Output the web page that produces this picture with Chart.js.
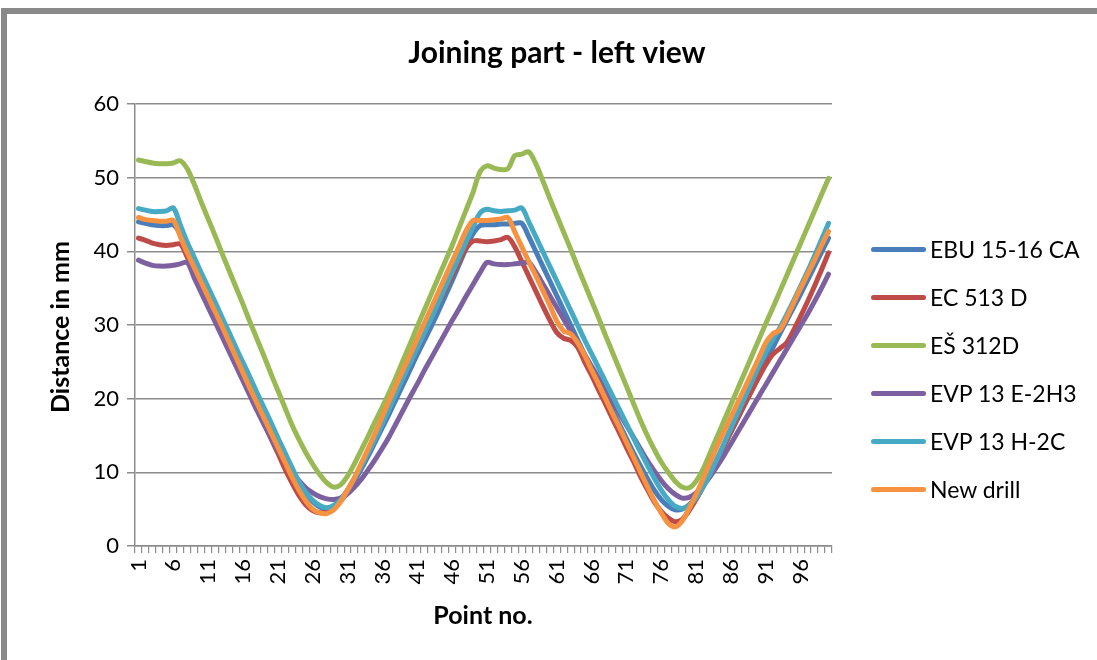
<!DOCTYPE html>
<html lang="en">
<head>
<meta charset="UTF-8">
<title>Joining part - left view</title>
<script src="https://cdn.jsdelivr.net/npm/chart.js"></script>
<style>
    body { margin: 0; background: #fff; overflow: hidden; }
    .wrap { position: relative; width: 1097px; height: 660px; overflow: hidden; }
    .frame { position: absolute; left: 1px; top: 8px; width: 1200px; height: 800px; border: 6px solid #898989; pointer-events: none; }
    #legend { position: absolute; left: 0; top: 0; font-family: Lato, "Open Sans", sans-serif; font-size: 23px; color: #000; }
    .item { position: absolute; left: 871px; height: 26px; white-space: nowrap; display: flex; align-items: center; }
    .swatch { width: 55px; height: 5px; border-radius: 3px; margin-right: 4px; }
</style>
</head>
<body>
<div class="wrap">
    <canvas id="grafico" width="1097" height="660"></canvas>
    <div class="frame"></div>
    <div id="legend"></div>
</div>
<script>
// point numbers on the category axis
const pointNo = Array.from({ length: 100 }, (_, i) => String(i + 1));

const ebu = [
    44.0, 43.8, 43.6, 43.5, 43.5, 43.6, 42.4, 40.3, 38.3, 36.3,
    34.3, 32.3, 30.3, 28.3, 26.3, 24.3, 22.3, 20.3, 18.3, 16.3,
    14.3, 12.3, 10.4, 8.7, 7.2, 6.0, 5.3, 5.0, 5.3, 6.1,
    7.3, 8.8, 10.5, 12.3, 14.2, 16.1, 18.0, 20.0, 22.0, 24.0,
    26.0, 27.9, 29.8, 31.8, 33.9, 36.0, 38.2, 40.4, 42.4, 43.5,
    43.6, 43.6, 43.7, 43.7, 43.8, 43.8, 42.0, 40.0, 38.0, 36.0,
    34.0, 32.0, 30.0, 28.0, 26.0, 24.1, 22.2, 20.3, 18.4, 16.5,
    14.6, 12.7, 10.9, 9.2, 7.6, 6.3, 5.4, 4.9, 5.0, 5.6,
    6.7, 8.2, 9.9, 11.7, 13.6, 15.5, 17.4, 19.3, 21.2, 23.1,
    25.0, 26.9, 28.8, 30.6, 32.4, 34.2, 36.1, 38.0, 39.9, 41.8
];
const ec = [
    41.8, 41.5, 41.1, 40.9, 40.8, 40.9, 41.0, 39.2, 37.2, 35.1,
    33.1, 31.0, 29.0, 26.9, 24.9, 22.8, 20.8, 18.7, 16.7, 14.6,
    12.6, 10.5, 8.6, 6.9, 5.6, 4.8, 4.5, 4.6, 5.3, 6.3,
    7.6, 9.2, 11.0, 12.9, 14.9, 16.9, 18.9, 20.9, 22.9, 24.9,
    26.9, 28.9, 30.9, 32.9, 34.8, 36.7, 38.6, 40.4, 41.4, 41.4,
    41.3, 41.4, 41.6, 41.9, 40.6, 38.6, 36.6, 34.6, 32.6, 30.7,
    29.0, 28.2, 27.9, 27.0, 25.0, 23.2, 21.2, 19.3, 17.3, 15.4,
    13.4, 11.5, 9.5, 7.7, 6.0, 4.7, 3.8, 3.3, 3.6, 4.8,
    6.3, 8.0, 9.8, 11.7, 13.6, 15.5, 17.4, 19.3, 21.1, 22.9,
    24.6, 26.0, 26.8, 27.6, 29.3, 31.2, 33.2, 35.3, 37.5, 39.8
];
const es = [
    52.4, 52.2, 52.0, 51.9, 51.9, 52.0, 52.3, 51.2, 49.1, 46.7,
    44.4, 42.1, 39.7, 37.4, 35.1, 32.8, 30.4, 28.1, 25.8, 23.4,
    21.1, 18.8, 16.5, 14.5, 12.7, 11.1, 9.7, 8.6, 8.0, 8.3,
    9.5, 11.2, 13.1, 15.0, 17.0, 18.9, 20.9, 23.0, 25.3, 27.5,
    29.8, 32.0, 34.2, 36.4, 38.6, 40.8, 43.2, 45.6, 48.0, 50.8,
    51.6, 51.3, 51.1, 51.2, 53.0, 53.2, 53.5, 51.9, 49.6, 47.2,
    44.9, 42.6, 40.3, 37.9, 35.6, 33.3, 31.0, 28.6, 26.3, 24.0,
    21.7, 19.4, 17.1, 15.0, 13.1, 11.4, 10.0, 8.8, 8.0, 7.9,
    8.8, 10.4, 12.6, 14.8, 17.0, 19.2, 21.4, 23.6, 25.8, 28.0,
    30.2, 32.3, 34.5, 36.7, 38.9, 41.1, 43.3, 45.5, 47.7, 49.9
];
const evpE = [
    38.8, 38.4, 38.1, 38.0, 38.0, 38.1, 38.3, 38.5, 36.4, 34.4,
    32.4, 30.4, 28.4, 26.4, 24.4, 22.4, 20.4, 18.4, 16.5, 14.7,
    13.0, 11.5, 10.1, 8.9, 7.9, 7.2, 6.7, 6.4, 6.3, 6.5,
    7.1, 8.0, 9.1, 10.4, 11.8, 13.3, 14.9, 16.7, 18.5, 20.3,
    22.0, 23.8, 25.5, 27.2, 28.9, 30.6, 32.2, 33.9, 35.5, 37.1,
    38.5, 38.3, 38.2, 38.2, 38.3, 38.4, 38.5, 37.2, 35.6, 34.0,
    32.4, 30.8, 29.2, 27.6, 26.0, 24.4, 22.8, 21.2, 19.6, 18.0,
    16.4, 14.8, 13.2, 11.6, 10.2, 8.9, 7.8, 7.0, 6.5, 6.6,
    7.2, 8.2, 9.4, 10.8, 12.3, 13.9, 15.5, 17.1, 18.7, 20.3,
    21.9, 23.5, 25.1, 26.7, 28.3, 29.9, 31.5, 33.2, 35.0, 36.9
];
const evpH = [
    45.8, 45.6, 45.4, 45.4, 45.5, 45.9, 43.6, 41.2, 39.2, 37.1,
    35.1, 33.1, 31.0, 29.0, 26.9, 24.9, 22.9, 20.8, 18.8, 16.8,
    14.7, 12.7, 10.7, 8.8, 7.3, 6.2, 5.5, 5.2, 5.5, 6.3,
    7.6, 9.2, 10.9, 12.7, 14.6, 16.6, 18.7, 20.8, 22.9, 24.9,
    26.9, 28.9, 30.9, 33.0, 35.1, 37.2, 39.2, 41.3, 43.3, 45.2,
    45.7, 45.5, 45.4, 45.5, 45.6, 45.9, 44.0, 42.0, 40.0, 38.0,
    36.0, 34.0, 32.0, 30.0, 28.0, 26.1, 24.2, 22.3, 20.4, 18.5,
    16.6, 14.7, 12.8, 11.0, 9.2, 7.6, 6.3, 5.4, 5.1, 5.5,
    6.5, 8.0, 9.8, 11.8, 13.9, 16.0, 18.1, 20.2, 22.3, 24.4,
    26.3, 28.0, 29.6, 31.4, 33.3, 35.3, 37.3, 39.4, 41.6, 43.8
];
const newDrill = [
    44.6, 44.3, 44.2, 44.1, 44.1, 44.2, 42.0, 39.8, 37.8, 35.8,
    33.8, 31.8, 29.8, 27.7, 25.6, 23.5, 21.4, 19.4, 17.4, 15.4,
    13.4, 11.4, 9.4, 7.6, 6.1, 5.0, 4.5, 4.4, 4.9, 6.0,
    7.6, 9.3, 11.3, 13.3, 15.4, 17.6, 19.8, 21.9, 24.0, 26.0,
    28.1, 30.2, 32.3, 34.4, 36.5, 38.6, 40.7, 42.8, 44.2, 44.2,
    44.2, 44.3, 44.4, 44.6, 42.6, 40.6, 38.6, 36.7, 34.7, 32.7,
    30.6, 29.2, 28.8, 27.6, 25.9, 23.9, 22.0, 20.0, 18.0, 16.1,
    14.1, 12.1, 10.1, 8.1, 6.2, 4.5, 3.1, 2.6, 3.4, 5.1,
    7.0, 9.1, 11.3, 13.5, 15.5, 17.5, 19.5, 21.5, 23.5, 25.5,
    27.6, 28.8, 29.3, 31.0, 33.0, 35.0, 36.9, 38.8, 40.8, 42.7
];

const seriesNames = ['EBU 15-16 CA', 'EC 513 D', 'EŠ 312D', 'EVP 13 E-2H3', 'EVP 13 H-2C', 'New drill'];
const seriesValues = [ebu, ec, es, evpE, evpH, newDrill];
const seriesColors = ['#4a7ebb', '#be4b48', '#98b954', '#7d60a0', '#46aac5', '#f69240'];

const fontFamily = 'Lato, "Open Sans", sans-serif';
const gridGray = '#8c8c8c';

// Excel draws the last series on top; Chart.js puts lowest "order" on top
const datasets = seriesValues.map((vals, i) => ({
    label: seriesNames[i],
    data: vals,
    borderColor: seriesColors[i],
    backgroundColor: seriesColors[i],
    borderWidth: 5,
    borderCapStyle: 'round',
    borderJoinStyle: 'round',
    pointRadius: 0,
    tension: 0.3,
    order: seriesValues.length - i
}));

const titlesPlugin = {
    id: 'titles',
    afterDraw(chart) {
        const ctx = chart.ctx;
        ctx.save();
        ctx.fillStyle = '#000';
        ctx.textAlign = 'center';
        ctx.textBaseline = 'middle';
        ctx.font = 'bold 30px ' + fontFamily;
        ctx.fillText('Joining part - left view', 557, 53);
        ctx.font = 'bold 25px ' + fontFamily;
        ctx.fillText('Point no.', 483, 616);
        ctx.translate(61, 327);
        ctx.rotate(-Math.PI / 2);
        ctx.fillText('Distance in mm', 0, 0);
        ctx.restore();
    }
};

new Chart(document.getElementById('grafico').getContext('2d'), {
    type: 'line',
    data: { labels: pointNo, datasets: datasets },
    options: {
        responsive: false,
        animation: false,
        layout: { padding: { left: 0, top: 104, right: 265, bottom: 0 } },
        plugins: {
            legend: { display: false },
            tooltip: { enabled: false }
        },
        scales: {
            x: {
                type: 'category',
                offset: true,
                afterFit: s => { s.height = 114; },
                grid: { drawOnChartArea: false, drawTicks: true, tickLength: 7, color: gridGray, lineWidth: 1.2, offset: true },
                border: { color: gridGray, width: 1.5 },
                ticks: {
                    autoSkip: false,
                    minRotation: 90,
                    maxRotation: 90,
                    padding: 6,
                    color: '#000',
                    font: { family: fontFamily, size: 22 },
                    callback: (v, i) => (i % 5 === 0 ? pointNo[i] : '')
                }
            },
            y: {
                min: 0,
                max: 60,
                afterFit: s => { s.width = 135; },
                grid: { color: gridGray, lineWidth: 1.5, tickLength: 8 },
                border: { color: gridGray, width: 1.5 },
                ticks: {
                    stepSize: 10,
                    padding: 8,
                    color: '#000',
                    font: { family: fontFamily, size: 22 }
                }
            }
        }
    },
    plugins: [titlesPlugin]
});

// legend on the right, same rows as the workbook chart
const rowCenters = [249, 297, 345, 393, 441, 489];
const legend = document.getElementById('legend');
seriesNames.forEach((name, i) => {
    const item = document.createElement('div');
    item.className = 'item';
    item.style.top = (rowCenters[i] - 13) + 'px';
    const sw = document.createElement('span');
    sw.className = 'swatch';
    sw.style.background = seriesColors[i];
    const txt = document.createElement('span');
    txt.textContent = name;
    item.appendChild(sw);
    item.appendChild(txt);
    legend.appendChild(item);
});
</script>
</body>
</html>
